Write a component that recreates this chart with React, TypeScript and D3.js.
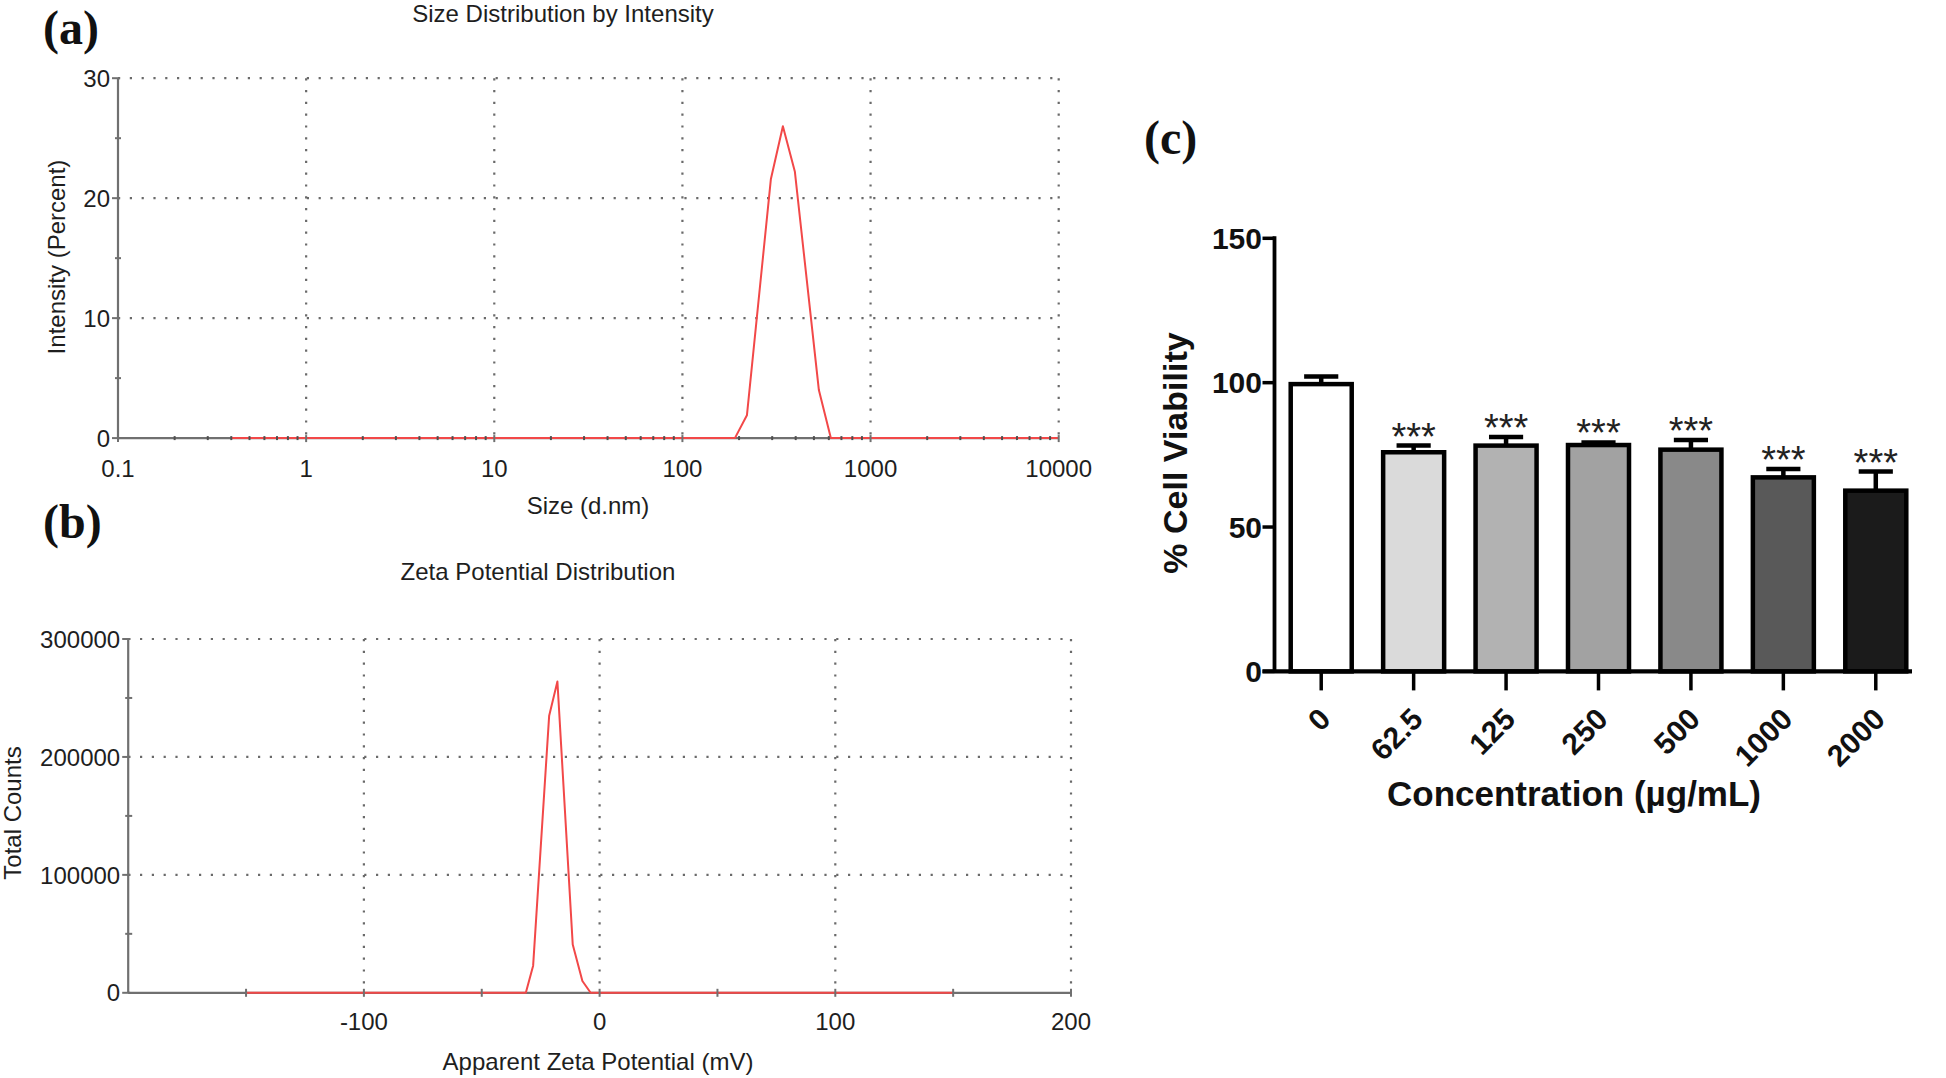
import React from "react";
import * as d3 from "d3";

// ---------- Panel (a): size distribution ----------
const sizeNm = [0.4, 190.1, 220.2, 295.3, 342.0, 396.1, 531.2, 615.1, 10000];
const intensityPct = [0, 0, 1.9, 21.6, 26.0, 22.2, 4.0, 0, 0];
const sizeTicks = [0.1, 1, 10, 100, 1000, 10000];
const sizeTickLabels = ["0.1", "1", "10", "100", "1000", "10000"];
const intensityTicks = [0, 10, 20, 30];
const intensityMinor = [5, 15, 25];

// ---------- Panel (b): zeta potential ----------
const zetaMv = [-150, -31.3, -28.2, -21.4, -17.9, -11.4, -7.3, -3.8, 150];
const zetaCounts = [0, 0, 23000, 235000, 264000, 41000, 10000, 0, 0];
const zetaTicks = [-100, 0, 100, 200];
const zetaMinor = [-150, -50, 50, 150];
const countTicks = [0, 100000, 200000, 300000];
const countMinor = [50000, 150000, 250000];

// ---------- Panel (c): cell viability ----------
const concentrations = ["0", "62.5", "125", "250", "500", "1000", "2000"];
const viability = [99.5, 75.9, 78.2, 78.4, 76.8, 67.2, 62.6];
const viabilityErr = [2.6, 2.3, 3.0, 0.9, 3.3, 2.9, 6.6];
const significance = ["", "***", "***", "***", "***", "***", "***"];
const barFills = ["#ffffff", "#dadada", "#b2b2b2", "#a2a2a2", "#898989", "#595959", "#1b1b1b"];
const viabilityTicks = [0, 50, 100, 150];

const SANS = "Liberation Sans, Arial, Helvetica, sans-serif";
const SERIF = "Liberation Serif, Times New Roman, serif";
const GRID = "#6a6a6a";
const AXIS = "#707070";
const RED = "#f24848";
const TXT = "#1e1e1e";

function DotGrid({ x1, y1, x2, y2 }: { x1: number; y1: number; x2: number; y2: number }) {
  return (
    <line x1={x1} y1={y1} x2={x2} y2={y2} stroke={GRID} strokeWidth={2.2}
      strokeDasharray="2.2 9.6" strokeLinecap="butt" />
  );
}

function PanelA() {
  const x = d3.scaleLog().domain([0.1, 10000]).range([118, 1058.7]);
  const y = d3.scaleLinear().domain([0, 30]).range([438.1, 78.2]);
  const line = d3.line<number>().x((_, i) => x(sizeNm[i])).y((d) => y(d));
  const minorX: number[] = [];
  for (let e = -1; e < 4; e++) for (let m = 2; m <= 9; m++) minorX.push(m * Math.pow(10, e));
  return (
    <g>
      <text x={43} y={44} fontFamily={SERIF} fontWeight="bold" fontSize={48} fill="#111">(a)</text>
      <text x={563} y={22} textAnchor="middle" fontFamily={SANS} fontSize={24} fill={TXT}>
        Size Distribution by Intensity
      </text>
      {intensityTicks.slice(1).map((t) => (
        <DotGrid key={"h" + t} x1={x(0.1)} x2={x(10000)} y1={y(t)} y2={y(t)} />
      ))}
      {sizeTicks.slice(1).map((t) => (
        <DotGrid key={"v" + t} x1={x(t)} x2={x(t)} y1={y(30)} y2={y(0)} />
      ))}
      <line x1={x(0.1)} x2={x(0.1)} y1={y(0)} y2={y(30)} stroke={AXIS} strokeWidth={2.2} />
      <line x1={x(0.1)} x2={x(10000)} y1={y(0)} y2={y(0)} stroke={AXIS} strokeWidth={2.2} />
      {intensityTicks.map((t) => (
        <line key={"yt" + t} x1={x(0.1) - 6} x2={x(0.1) + 2} y1={y(t)} y2={y(t)} stroke={AXIS} strokeWidth={2} />
      ))}
      {intensityMinor.map((t) => (
        <line key={"ym" + t} x1={x(0.1) - 3} x2={x(0.1) + 3} y1={y(t)} y2={y(t)} stroke={AXIS} strokeWidth={2} />
      ))}
      <path d={line(intensityPct) || ""} fill="none" stroke={RED} strokeWidth={2} strokeLinejoin="round" />
      {minorX.map((t, i) => (
        <line key={"xm" + i} x1={x(t)} x2={x(t)} y1={y(0) - 2} y2={y(0) + 2} stroke="#505050" strokeWidth={2} />
      ))}
      {sizeTicks.map((t) => (
        <line key={"xt" + t} x1={x(t)} x2={x(t)} y1={y(0) - 3} y2={y(0) + 4} stroke={AXIS} strokeWidth={2} />
      ))}
      {intensityTicks.map((t) => (
        <text key={"yl" + t} x={x(0.1) - 8} y={y(t)} dy="0.36em" textAnchor="end" fontFamily={SANS} fontSize={24} fill={TXT}>
          {t}
        </text>
      ))}
      {sizeTicks.map((t, i) => (
        <text key={"xl" + t} x={x(t)} y={477} textAnchor="middle" fontFamily={SANS} fontSize={24} fill={TXT}>
          {sizeTickLabels[i]}
        </text>
      ))}
      <text x={588} y={514} textAnchor="middle" fontFamily={SANS} fontSize={24} fill={TXT}>Size (d.nm)</text>
      <text transform={`translate(65,257) rotate(-90)`} textAnchor="middle" fontFamily={SANS} fontSize={24} fill={TXT}>
        Intensity (Percent)
      </text>
    </g>
  );
}

function PanelB() {
  const x = d3.scaleLinear().domain([-200, 200]).range([128.2, 1071]);
  const y = d3.scaleLinear().domain([0, 300000]).range([992.8, 639]);
  const line = d3.line<number>().x((_, i) => x(zetaMv[i])).y((d) => y(d));
  return (
    <g>
      <text x={43} y={538} fontFamily={SERIF} fontWeight="bold" fontSize={48} fill="#111">(b)</text>
      <text x={538} y={580} textAnchor="middle" fontFamily={SANS} fontSize={24} fill={TXT}>
        Zeta Potential Distribution
      </text>
      {countTicks.slice(1).map((t) => (
        <DotGrid key={"h" + t} x1={x(-200)} x2={x(200)} y1={y(t)} y2={y(t)} />
      ))}
      {zetaTicks.map((t) => (
        <DotGrid key={"v" + t} x1={x(t)} x2={x(t)} y1={y(300000)} y2={y(0)} />
      ))}
      <line x1={x(-200)} x2={x(-200)} y1={y(0)} y2={y(300000)} stroke={AXIS} strokeWidth={2.2} />
      <line x1={x(-200)} x2={x(200)} y1={y(0)} y2={y(0)} stroke={AXIS} strokeWidth={2.2} />
      {countTicks.map((t) => (
        <line key={"yt" + t} x1={x(-200) - 6} x2={x(-200) + 2} y1={y(t)} y2={y(t)} stroke={AXIS} strokeWidth={2} />
      ))}
      {countMinor.map((t) => (
        <line key={"ym" + t} x1={x(-200) - 3} x2={x(-200) + 4} y1={y(t)} y2={y(t)} stroke={AXIS} strokeWidth={2} />
      ))}
      <path d={line(zetaCounts) || ""} fill="none" stroke={RED} strokeWidth={2} strokeLinejoin="round" />
      {[...zetaMinor, ...zetaTicks].map((t) => (
        <line key={"xt" + t} x1={x(t)} x2={x(t)} y1={y(0) - 4} y2={y(0) + 4} stroke={AXIS} strokeWidth={2} />
      ))}
      {countTicks.map((t) => (
        <text key={"yl" + t} x={x(-200) - 8} y={y(t)} dy="0.36em" textAnchor="end" fontFamily={SANS} fontSize={24} fill={TXT}>
          {t}
        </text>
      ))}
      {zetaTicks.map((t) => (
        <text key={"xl" + t} x={x(t)} y={1030} textAnchor="middle" fontFamily={SANS} fontSize={24} fill={TXT}>
          {t}
        </text>
      ))}
      <text x={598} y={1070} textAnchor="middle" fontFamily={SANS} fontSize={24} fill={TXT}>
        Apparent Zeta Potential (mV)
      </text>
      <text transform={`translate(21,813) rotate(-90)`} textAnchor="middle" fontFamily={SANS} fontSize={24} fill={TXT}>
        Total Counts
      </text>
    </g>
  );
}

function PanelC() {
  const x = d3.scaleBand<string>().domain(concentrations).range([1275, 1922]).paddingInner(0.34).paddingOuter(0.17);
  const y = d3.scaleLinear().domain([0, 150]).range([671.4, 238.3]);
  const bw = x.bandwidth();
  const axisX0 = 1274.5;
  return (
    <g>
      <text x={1144} y={154} fontFamily={SERIF} fontWeight="bold" fontSize={48} fill="#111">(c)</text>
      {concentrations.map((c, i) => {
        const x0 = x(c) as number;
        const cx = x0 + bw / 2;
        const top = y(viability[i]);
        const errTop = y(viability[i] + viabilityErr[i]);
        return (
          <g key={c}>
            <line x1={cx} x2={cx} y1={top} y2={errTop} stroke="#000" strokeWidth={4.5} />
            <line x1={cx - bw * 0.28} x2={cx + bw * 0.28} y1={errTop} y2={errTop} stroke="#000" strokeWidth={4.5} />
            <rect x={x0} y={top} width={bw} height={y(0) - top} fill={barFills[i]} stroke="#000" strokeWidth={4.5} />
            {significance[i] && (
              <text x={cx} y={errTop + 4} textAnchor="middle" fontFamily={SANS} fontSize={38} fill="#222">
                {significance[i]}
              </text>
            )}
            <line x1={cx} x2={cx} y1={y(0)} y2={y(0) + 19} stroke="#000" strokeWidth={3.5} />
            <text transform={`translate(${cx + 11},721) rotate(-45)`} textAnchor="end" fontFamily={SANS}
              fontWeight="bold" fontSize={30} fill="#111">
              {c}
            </text>
          </g>
        );
      })}
      <line x1={axisX0} x2={axisX0} y1={y(150) - 2} y2={y(0)} stroke="#000" strokeWidth={3.8} />
      <line x1={axisX0 - 12} x2={1912} y1={y(0)} y2={y(0)} stroke="#000" strokeWidth={4.2} />
      {viabilityTicks.map((t) => (
        <g key={t}>
          <line x1={axisX0 - 12} x2={axisX0} y1={y(t)} y2={y(t)} stroke="#000" strokeWidth={3.5} />
          <text x={1262} y={y(t)} dy="0.36em" textAnchor="end" fontFamily={SANS} fontWeight="bold" fontSize={30} fill="#111">
            {t}
          </text>
        </g>
      ))}
      <text x={1574} y={806} textAnchor="middle" fontFamily={SANS} fontWeight="bold" fontSize={35} fill="#111">
        Concentration (µg/mL)
      </text>
      <text transform={`translate(1187,453) rotate(-90)`} textAnchor="middle" fontFamily={SANS} fontWeight="bold"
        fontSize={34} fill="#111">
        % Cell Viability
      </text>
    </g>
  );
}

export default function App() {
  return (
    <svg width={1946} height={1078} viewBox="0 0 1946 1078"
      style={{ position: "absolute", left: 0, top: 0, background: "#fff" }}>
      <rect x={0} y={0} width={1946} height={1078} fill="#fff" />
      <PanelA />
      <PanelB />
      <PanelC />
    </svg>
  );
}
